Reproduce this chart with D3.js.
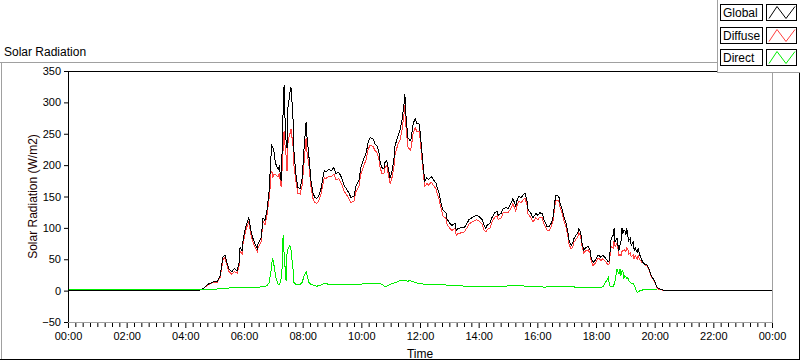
<!DOCTYPE html>
<html>
<head>
<meta charset="utf-8">
<script src="https://cdn.jsdelivr.net/npm/d3@7"></script>
<style>
  html, body { margin: 0; padding: 0; background: #fff; }
  svg { display: block; font-family: "Liberation Sans", Arial, sans-serif; }
</style>
</head>
<body>
<svg id="chart" width="800" height="361"></svg>
<script>
// ---- data (time in minutes since 00:00, values in W/m2) ----
const timeMinutes = [0,260,270,276,286,297,305,311,317,321,325,329,335,340,346,350,352,356,358,362,366,370,374,378,382,387,389,395,399,403,407,411,413,415,417,419,421,423,425,427,430,432,434,436,438,440,442,444,446,448,450,452,454,456,458,460,462,466,470,475,479,483,487,489,493,497,501,505,509,513,518,524,528,534,538,544,548,554,558,565,569,575,579,585,589,595,599,605,610,614,618,624,628,632,636,638,642,646,648,652,657,659,663,667,669,675,679,683,687,689,691,695,700,702,706,710,714,718,720,724,728,730,734,738,743,749,753,755,759,763,767,773,775,781,785,792,794,798,804,810,816,820,826,835,841,847,851,855,857,863,867,873,878,880,886,890,896,900,906,910,916,918,922,927,931,935,939,941,947,951,957,961,965,970,974,980,984,988,992,996,998,1002,1004,1006,1010,1015,1019,1023,1025,1029,1033,1035,1039,1043,1045,1049,1051,1055,1060,1064,1068,1070,1074,1078,1084,1086,1090,1094,1098,1105,1107,1109,1111,1115,1117,1119,1123,1125,1127,1129,1131,1133,1135,1137,1139,1141,1143,1145,1147,1150,1152,1156,1158,1160,1164,1166,1170,1174,1176,1178,1182,1184,1188,1193,1197,1201,1205,1209,1215,1219,1440];

const globalValues = [0,0,1,3,10,14,14,24,53,57,45,35,30,35,32,45,69,64,80,96,108,116,96,84,75,67,75,84,116,112,128,155,183,212,231,228,223,210,202,198,194,198,188,175,223,287,327,271,239,228,292,303,316,325,303,282,223,187,164,163,180,228,268,244,212,175,156,148,147,151,164,191,190,193,191,196,187,188,183,167,163,155,148,151,167,175,196,210,220,236,244,242,234,231,220,207,196,194,204,207,187,179,191,212,231,247,255,271,295,314,282,244,239,242,266,274,266,266,255,220,187,175,180,177,182,175,171,164,155,140,128,124,115,107,104,107,96,99,100,100,107,113,116,120,118,113,104,99,104,107,116,124,126,120,123,131,132,131,139,147,134,143,150,148,153,155,143,129,123,116,123,120,124,123,112,102,102,107,116,143,151,151,150,140,132,116,107,91,80,72,77,83,88,92,99,91,77,65,69,70,64,53,45,48,56,56,53,56,53,46,48,64,83,88,99,77,84,72,64,72,77,100,91,96,96,88,99,88,80,83,72,77,64,69,61,67,56,48,45,43,41,41,35,24,19,13,5,3,2,0,0];

const diffuseValues = [0,0,1,3,9,13,13,21,49,53,41,31,26,30,28,40,63,58,74,90,102,110,90,78,70,62,69,78,110,105,120,145,160,188,190,180,185,185,185,183,182,186,176,165,195,225,255,230,215,190,235,245,250,258,245,235,200,175,155,154,168,205,243,220,198,166,147,140,139,143,155,180,179,182,181,186,177,178,173,158,154,146,140,143,158,166,186,199,209,225,232,230,223,220,209,197,187,186,196,199,178,170,181,200,218,233,240,255,278,296,265,229,224,228,251,260,253,254,243,209,177,166,171,168,173,166,162,155,146,131,119,115,106,99,96,99,88,91,92,93,100,106,109,113,111,106,97,93,97,100,109,117,119,113,116,124,125,124,131,139,126,135,142,140,145,147,136,122,116,109,116,113,117,116,105,96,96,101,110,136,144,144,143,134,126,110,101,85,74,66,71,77,82,86,93,85,72,60,64,65,59,48,40,43,51,51,48,51,48,41,43,58,70,68,80,70,76,66,56,58,55,62,64,63,65,62,68,66,58,60,54,57,50,56,50,56,49,45,45,43,40,40,34,23,18,12,4,2,1,0,0];

const directValues = [2.4,2.4,2.4,2.4,2.4,2.4,2.6,3,4,4,4,4,5,5,5,5,5,5,5,5,5,5,5,5,5,5,5,6,6,6,8,12,21,30,45,51,42,32,22,16,10,10,12,20,37,89,60,37,16,59,66,70,72,66,50,37,13,10,10,10,13,24,30,24,13,10,9,8,7,8,9,12,11,10,10,10,10,10,10,9,9,9,9,9,9,9,10,11,11,11,12,12,11,11,11,11,10,8,6,7,9,10,11,12,13,14,16,16,17,16,16,15,16,15,14,13,12,12,11,11,10,10,9,9,9,9,9,9,9,9,9,9,8,8,8,8,8,8,8,7,7,7,7,7,7,6,6,7,7,7,7,7,7,7,7,7,7,8,8,8,8,8,8,8,8,7,7,7,7,7,7,7,6,6,5,6,6,7,7,7,7,6,6,6,6,6,6,6,6,6,6,6,5,5,5,5,5,5,5,5,5,5,5,5,5,5,5,6,11,21,12,7,6,6,10,16,35,30,27,35,24,30,32,19,24,22,19,21,16,13,12,12,8,5,-3,-2,0,0,2,2,2,2,2,2,1.6,1.6,1.6];

const seriesNames = ["Global", "Diffuse", "Direct"];
const seriesColors = ["#000000", "#ff3f3f", "#00ee00"];
const yTickValues = [-50, 0, 50, 100, 150, 200, 250, 300, 350];
const xTickMinutes = [0, 120, 240, 360, 480, 600, 720, 840, 960, 1080, 1200, 1320, 1440];

// ---- drawing ----
const svg = d3.select("#chart");
const plot = { left: 68, right: 772, top: 71, bottom: 322 };

const x = d3.scaleLinear().domain([0, 1440]).range([plot.left, plot.right]);
const y = d3.scaleLinear().domain([-50, 350]).range([plot.bottom, plot.top]);

// outer frame
svg.append("line").attr("x1", 0).attr("x2", 800).attr("y1", 62.5).attr("y2", 62.5).attr("stroke", "#a0a0a0");
svg.append("line").attr("x1", 1.5).attr("x2", 1.5).attr("y1", 62).attr("y2", 360).attr("stroke", "#a0a0a0");
svg.append("line").attr("x1", 0).attr("x2", 800).attr("y1", 359.5).attr("y2", 359.5).attr("stroke", "#000");
svg.append("line").attr("x1", 799.5).attr("x2", 799.5).attr("y1", 62).attr("y2", 360).attr("stroke", "#000");

// title
svg.append("text").attr("x", 4).attr("y", 56).attr("font-size", 12).attr("fill", "#000").text("Solar Radiation");

// plot area
svg.append("rect").attr("x", plot.left).attr("y", plot.top).attr("width", plot.right - plot.left).attr("height", plot.bottom - plot.top).attr("fill", "#fff");
svg.append("line").attr("x1", plot.left).attr("x2", plot.right).attr("y1", plot.top + 0.5).attr("y2", plot.top + 0.5).attr("stroke", "#000");
svg.append("line").attr("x1", plot.right + 0.5).attr("x2", plot.right + 0.5).attr("y1", plot.top).attr("y2", plot.bottom).attr("stroke", "#a0a0a0");

// clip
svg.append("clipPath").attr("id", "clip").append("rect")
  .attr("x", plot.left + 1).attr("y", plot.top + 1)
  .attr("width", plot.right - plot.left - 1).attr("height", plot.bottom - plot.top - 1);

const seriesValues = [globalValues, diffuseValues, directValues];
const drawOrder = [1, 0, 2]; // diffuse underneath, then global, then direct on top
const line = d3.line().x(d => x(d[0])).y(d => y(d[1]));
const lines = svg.append("g").attr("clip-path", "url(#clip)");
drawOrder.forEach(i => {
  const vals = seriesValues[i];
  const pts = timeMinutes.map((t, k) => [t, vals[k]]);
  lines.append("path").datum(pts)
    .attr("d", line)
    .attr("fill", "none")
    .attr("stroke", seriesColors[i])
    .attr("stroke-width", 1)
    .attr("shape-rendering", "crispEdges");
});

// y axis
const yAxis = d3.axisLeft(y).tickValues(yTickValues).tickSize(4).tickPadding(3);
const gy = svg.append("g").attr("transform", `translate(${plot.left},0)`).call(yAxis);
gy.select(".domain").remove();
gy.selectAll("text").attr("font-size", 11).attr("font-family", "Liberation Sans, Arial, sans-serif").attr("fill", "#000");
gy.selectAll("line").attr("stroke", "#000");
svg.append("line").attr("x1", plot.left + 0.5).attr("x2", plot.left + 0.5).attr("y1", plot.top).attr("y2", plot.bottom + 1).attr("stroke", "#000");

// x axis minor ticks
const minorTicks = d3.range(0, 1441, 15).filter(m => m % 120 !== 0);
const xMinor = d3.axisBottom(x).tickValues(minorTicks).tickSize(4).tickFormat("");
const gxm = svg.append("g").attr("transform", `translate(0,${plot.bottom + 1})`).call(xMinor);
gxm.select(".domain").remove();
gxm.selectAll("line").attr("stroke", "#000");

// x axis major ticks
const fmt = m => {
  const h = Math.floor((m % 1440) / 60), mm = m % 60;
  return String(h).padStart(2, "0") + ":" + String(mm).padStart(2, "0");
};
const xAxis = d3.axisBottom(x).tickValues(xTickMinutes).tickSize(6).tickPadding(4).tickFormat(fmt);
const gx = svg.append("g").attr("transform", `translate(0,${plot.bottom})`).call(xAxis);
gx.select(".domain").remove();
gx.selectAll("text").attr("font-size", 11).attr("font-family", "Liberation Sans, Arial, sans-serif").attr("fill", "#000");
gx.selectAll("line").attr("stroke", "#000");
svg.append("line").attr("x1", plot.left).attr("x2", plot.right + 1).attr("y1", plot.bottom + 0.5).attr("y2", plot.bottom + 0.5).attr("stroke", "#a0a0a0");

// axis titles
svg.append("text").attr("x", x(720)).attr("y", 358).attr("text-anchor", "middle")
  .attr("font-size", 12).attr("fill", "#000").text("Time");
svg.append("text").attr("transform", `translate(37,${(plot.top + plot.bottom) / 2}) rotate(-90)`)
  .attr("text-anchor", "middle").attr("font-size", 12).attr("fill", "#1a0000").text("Solar Radiation (W/m2)");

// legend
const lg = svg.append("g");
lg.append("rect").attr("x", 717.5).attr("y", -1).attr("width", 90).attr("height", 73.5).attr("fill", "#fff").attr("stroke", "#a0a0a0");
seriesNames.forEach((name, i) => {
  const top = 4 + i * 22.5;
  const yy = Math.round(top) + 0.5;
  lg.append("rect").attr("x", 720.5).attr("y", yy).attr("width", 42).attr("height", 16).attr("fill", "#fff").attr("stroke", "#000");
  lg.append("text").attr("x", 723).attr("y", yy + 12.5).attr("font-size", 12).attr("fill", "#000").text(name);
  lg.append("rect").attr("x", 766.5).attr("y", yy).attr("width", 30).attr("height", 16).attr("fill", "#fff").attr("stroke", "#000");
  const zig = [[769, 14], [777, 2], [786, 14], [795, 2]].map(p => [p[0], yy + p[1]]);
  lg.append("path").attr("d", d3.line()(zig)).attr("fill", "none").attr("stroke", seriesColors[i]).attr("stroke-width", 1);
});
</script>
</body>
</html>
